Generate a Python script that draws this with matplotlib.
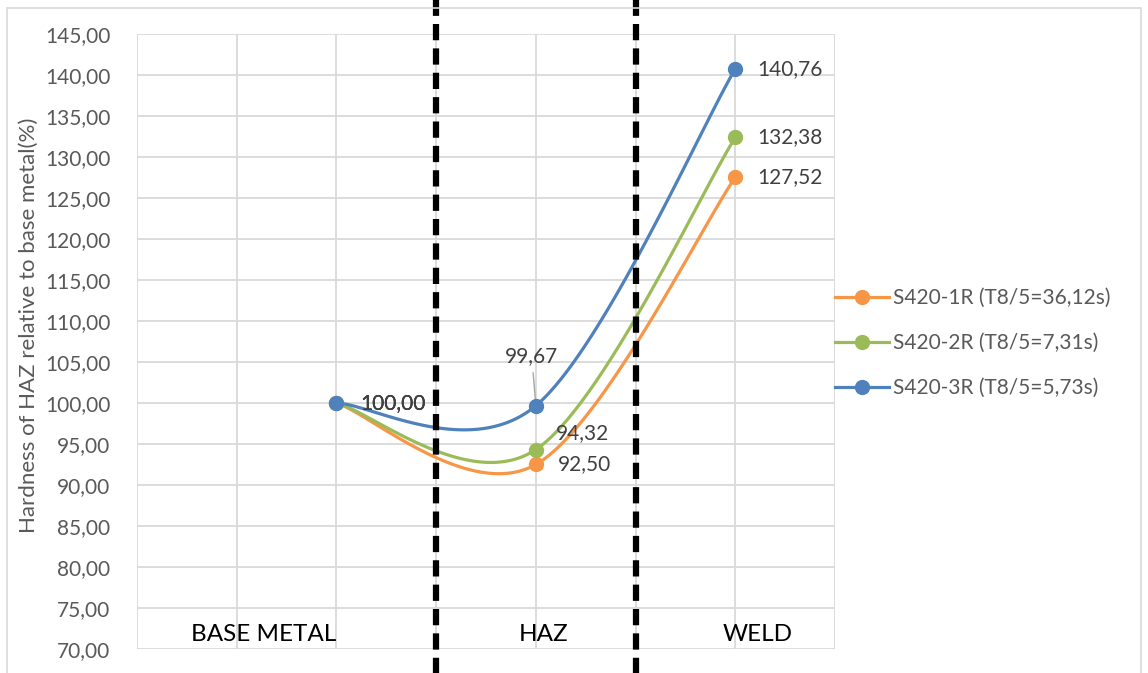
import numpy as np
import matplotlib.pyplot as plt
from matplotlib.patches import Rectangle

plt.rcParams['font.family'] = ['Lato', 'DejaVu Sans']

# hardness relative to base metal (%), points at BASE METAL / HAZ / WELD
zones = ['BASE METAL', 'HAZ', 'WELD']
x_pos = [2, 4, 6]
s420_1r = [100.00, 92.50, 127.52]
s420_2r = [100.00, 94.32, 132.38]
s420_3r = [100.00, 99.67, 140.76]
series_names = ['S420-1R (T8/5=36,12s)', 'S420-2R (T8/5=7,31s)', 'S420-3R (T8/5=5,73s)']
colors = ['#F79646', '#9BBB59', '#4F81BD']
y_ticks = np.arange(70, 146, 5)


def smooth(xs, ys, n=60):
    # bezier smoothing like spreadsheet "smoothed line"
    p = np.column_stack([xs, ys]).astype(float)
    out = []
    for i in range(len(p) - 1):
        p_prev = p[i - 1] if i > 0 else p[i]
        p_next = p[i + 2] if i + 2 < len(p) else p[i + 1]
        c1 = p[i] + (p[i + 1] - p_prev) / 6
        c2 = p[i + 1] - (p_next - p[i]) / 6
        t = np.linspace(0, 1, n)[:, None]
        seg = ((1 - t) ** 3 * p[i] + 3 * (1 - t) ** 2 * t * c1
               + 3 * (1 - t) * t ** 2 * c2 + t ** 3 * p[i + 1])
        out.append(seg)
    seg = np.vstack(out)
    return seg[:, 0], seg[:, 1]


def fmt(v):
    return f'{v:.2f}'.replace('.', ',')


fig = plt.figure(figsize=(11.48, 6.73), dpi=100)
ax = fig.add_axes([0.1193, 0.0357, 0.6081, 0.9138])

# outer chart frame
fig.patches.append(Rectangle((0.006, -0.02), 0.988, 1.008, transform=fig.transFigure,
                             fill=False, edgecolor='#D9D9D9', linewidth=1.2))

for vals, name, c in zip([s420_1r, s420_2r, s420_3r], series_names, colors):
    sx, sy = smooth(x_pos, vals)
    ax.plot(sx, sy, color=c, linewidth=2.3, solid_capstyle='round', zorder=3)
    ax.plot(x_pos, vals, 'o', color=c, markersize=10, zorder=4)
    ax.plot([], [], '-o', color=c, linewidth=2.3, markersize=10, label=name)

lab_col = '#404040'
fs = 15
# data labels
for vals in [s420_1r, s420_2r, s420_3r]:
    ax.annotate(fmt(vals[0]), (x_pos[0], vals[0]), xytext=(17, 0),
                textcoords='offset points', ha='left', va='center', fontsize=fs, color=lab_col, zorder=5)
    ax.annotate(fmt(vals[2]), (x_pos[2], vals[2]), xytext=(16, 0),
                textcoords='offset points', ha='left', va='center', fontsize=fs, color=lab_col)
ax.annotate(fmt(s420_1r[1]), (x_pos[1], s420_1r[1]), xytext=(16, 0),
            textcoords='offset points', ha='left', va='center', fontsize=fs, color=lab_col)
ax.annotate(fmt(s420_2r[1]), (x_pos[1], s420_2r[1]), xytext=(14.5, 11.5),
            textcoords='offset points', ha='left', va='center', fontsize=fs, color=lab_col)
ax.annotate(fmt(s420_3r[1]), (x_pos[1], s420_3r[1]), xytext=(-3, 36),
            textcoords='offset points', ha='center', va='center', fontsize=fs, color=lab_col,
            arrowprops=dict(arrowstyle='-', color='#A6A6A6', lw=1, shrinkA=3, shrinkB=5))

# zone names inside the plot
for name, xc in zip(zones, [1.27, 4.08, 6.22]):
    ax.text(xc, 70.5, name, ha='center', va='bottom', fontsize=17.5, color='black')

# zone boundaries
for xb in [3, 5]:
    ax.plot([xb, xb], [-0.04, 1.06], color='black', linewidth=4.5, linestyle=(0, (2.6, 1.3)),
            transform=ax.get_xaxis_transform(), clip_on=False, zorder=6)

ax.set_xlim(0, 7)
ax.set_ylim(70, 145)
ax.set_xticks(range(8))
ax.set_xticklabels([])
ax.set_yticks(y_ticks)
ax.set_yticklabels([fmt(v) for v in y_ticks], fontsize=fs, color='#595959')
ax.tick_params(length=0, pad=19)
ax.grid(True, color='#D9D9D9', linewidth=1.3)
ax.set_axisbelow(True)
for s in ax.spines.values():
    s.set_visible(False)
ax.set_ylabel('Hardness of HAZ relative to base metal(%)', fontsize=16, color='#595959')
ax.yaxis.set_label_coords(-0.141, 0.527)

ax.legend(loc='center left', bbox_to_anchor=(1.0, 0.497), frameon=False, fontsize=fs,
          labelcolor='#595959', handlelength=2.6, handletextpad=0.2, labelspacing=1.2,
          borderaxespad=0, borderpad=0)

fig.savefig('out.png', dpi=100)
